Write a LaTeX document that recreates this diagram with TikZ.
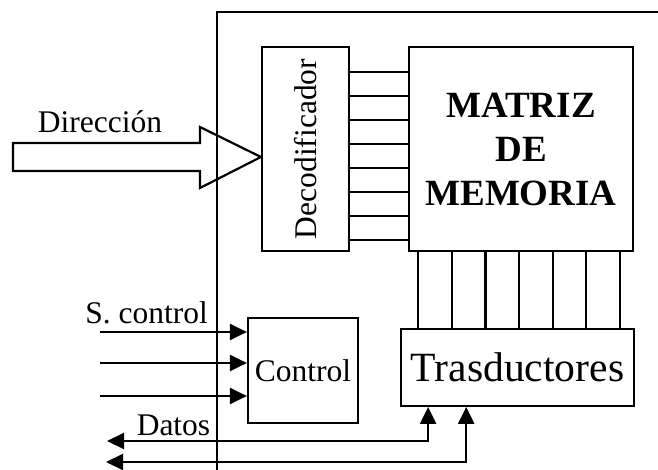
\documentclass[tikz,border=0pt]{standalone}
\usepackage{fontspec}
\setmainfont{Liberation Serif}
\usetikzlibrary{arrows.meta, positioning, calc}

\begin{document}
\begin{tikzpicture}[
    x=1pt, y=-1pt,
    block/.style={rectangle, draw, line width=2.2pt, inner sep=0pt},
    wire/.style={line width=2.2pt},
    tip/.tip={Triangle[length=17pt, width=16pt]},
    arrow/.style={-tip, line width=2.2pt},
    dualarrow/.style={tip-tip, line width=2.2pt},
    txt/.style={font=\fontsize{31.5}{36}\selectfont, inner sep=0pt}
]
\useasboundingbox (0,0) rectangle (658,470);

% CHIP (outer border, open to the right and below)
\draw[wire] (217,470) -- (217,12) -- (658,12);

% Decoder
\node[block, minimum width=87pt, minimum height=204pt] (deco) at (305.5,149)
    {\rotatebox{90}{\fontsize{31.5}{36}\selectfont Decodificador}};

% Memory matrix
\node[block, minimum width=224pt, minimum height=204pt, align=center,
      font=\fontsize{37}{44}\selectfont\bfseries] (matriz) at (521,149)
    {MATRIZ\\DE\\MEMORIA};

% Transducers
\node[block, minimum width=233pt, minimum height=77pt,
      font=\fontsize{41.6}{48}\selectfont] (trans) at (517.5,367.3) {Trasductores};

% Control unit
\node[block, minimum width=110pt, minimum height=105pt, txt] (ctrl) at (303,370.5) {Control};

% word lines: decoder -> matrix
\foreach \i in {0,...,7}
  \draw[wire] ($(deco.north east)!{0.126+0.1167*\i}!(deco.south east)$)
           -- ($(matriz.north west)!{0.126+0.1167*\i}!(matriz.south west)$);

% bit lines: matrix -> transducers
\foreach \i in {0,...,6} {
  \coordinate (bit\i) at ($(matriz.south west)!{0.046+0.1486*\i}!(matriz.south east)$);
  \draw[wire] (bit\i) -- (bit\i |- trans.north);
}

% Address bus (hollow arrow)
\draw[wire] (13,143) -- (200,143) -- (200,127) -- (deco.west |- 0,157)
    -- (200,188) -- (200,171) -- (13,171) -- cycle;
\node[txt] (dir) at (100,122) {Dirección};

% Control signals
\coordinate (s1) at (100,332);
\coordinate (s2) at (100,363);
\coordinate (s3) at (100,396);
\foreach \s in {s1,s2,s3}
  \draw[arrow] (\s) -- (\s -| ctrl.west);
\node[txt] (scontrol) at (146.5,313) {S. control};

% Data lines
\coordinate (t1) at ($(trans.south west)!0.12!(trans.south east)$);
\coordinate (t2) at ($(trans.south west)!0.282!(trans.south east)$);
\coordinate (d1) at (107,441);
\coordinate (d2) at (106,462);
\draw[dualarrow] (d1) -- (d1 -| t1) -- (t1);
\draw[dualarrow] (d2) -- (d2 -| t2) -- (t2);
\node[txt] (datos) at (173.5,425) {Datos};

\end{tikzpicture}
\end{document}
